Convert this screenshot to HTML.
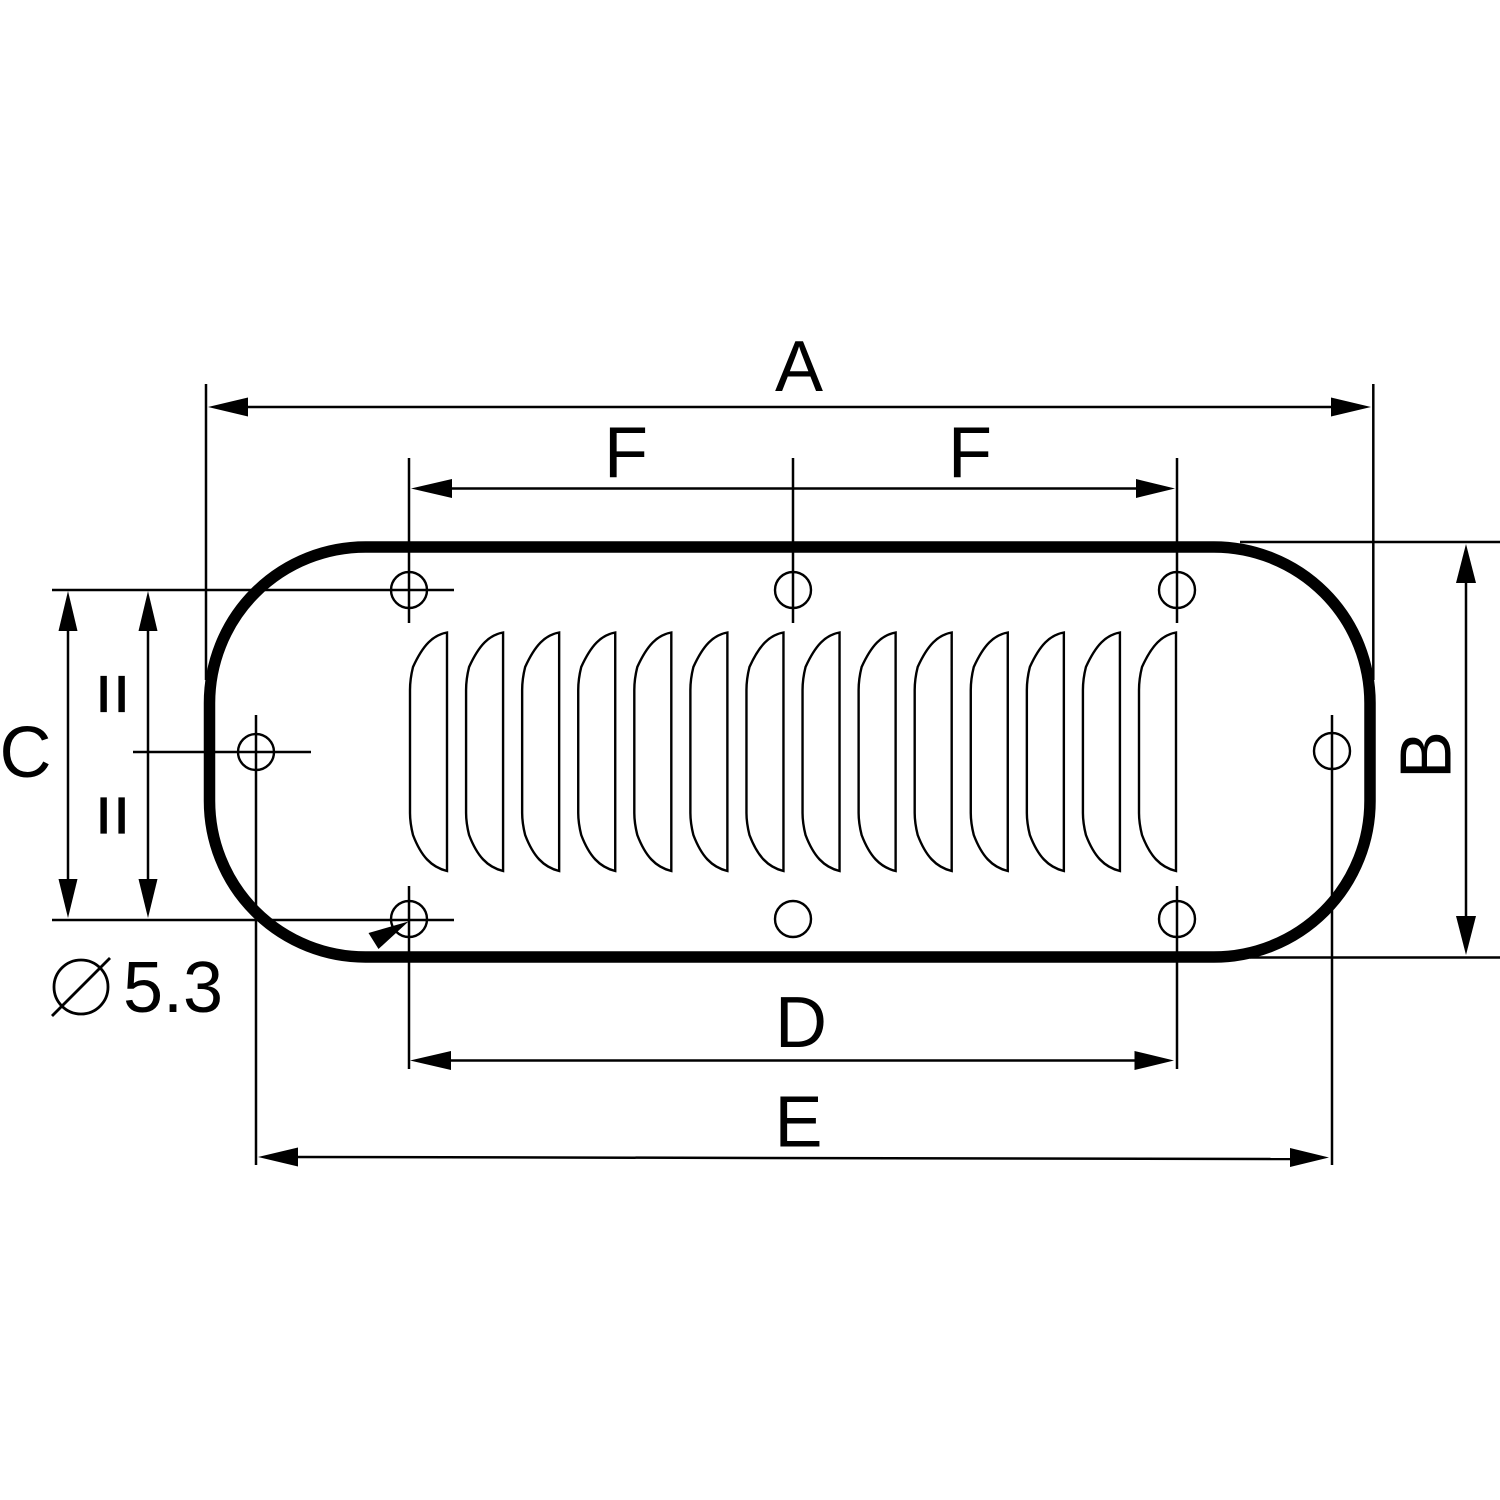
<!DOCTYPE html>
<html>
<head>
<meta charset="utf-8">
<style>
html,body{margin:0;padding:0;background:#fff}
svg{display:block}
text{font-family:"Liberation Sans",Arial,sans-serif;font-size:72px;fill:#000}
</style>
</head>
<body>
<svg width="1500" height="1500" viewBox="0 0 1500 1500" xmlns="http://www.w3.org/2000/svg">
<defs>
<path id="l" d="M447 632.500 C433 635 423 645 413 667 C411 675 410 682 410 690 L410 813 C410 820 411 827 413 835 C421 856 431 867 447 871 Z" fill="none" stroke="#000" stroke-width="2.400"/>
</defs>
<rect width="1500" height="1500" fill="#fff"/>

<!-- extension lines -->
<g stroke="#000" stroke-width="2.500" fill="none">
<path d="M206 384V680M1373.300 384V680"/>
<path d="M1240 542H1500M1250 957.500H1500"/>
<path d="M52 590H454M52 920H454"/>
<path d="M133 752H311"/>
<path d="M409 458V623M793 458V623M1177 458V623"/>
<path d="M409 886V1069M1177 886V1069"/>
<path d="M256 715V1165M1332 715V1165"/>
</g>

<!-- outline -->
<rect x="209.500" y="547" width="1160.500" height="410" rx="156" ry="156" fill="none" stroke="#000" stroke-width="11.500"/>

<!-- holes -->
<g fill="none" stroke="#000" stroke-width="2.400">
<circle cx="409" cy="590" r="18"/>
<circle cx="793" cy="590" r="18"/>
<circle cx="1177" cy="590" r="18"/>
<circle cx="256" cy="752" r="18"/>
<circle cx="1332" cy="751" r="18"/>
<circle cx="409" cy="919" r="18"/>
<circle cx="793" cy="919" r="18"/>
<circle cx="1177" cy="919" r="18"/>
</g>

<!-- louvers -->
<use href="#l"/>
<use href="#l" x="56.080"/>
<use href="#l" x="112.150"/>
<use href="#l" x="168.230"/>
<use href="#l" x="224.310"/>
<use href="#l" x="280.380"/>
<use href="#l" x="336.460"/>
<use href="#l" x="392.540"/>
<use href="#l" x="448.620"/>
<use href="#l" x="504.690"/>
<use href="#l" x="560.770"/>
<use href="#l" x="616.850"/>
<use href="#l" x="672.920"/>
<use href="#l" x="729"/>

<!-- dimension lines -->
<g stroke="#000" stroke-width="2.500" fill="none">
<path d="M240 407H1340"/>
<path d="M440 488.500H1145"/>
<path d="M440 1060.500H1145"/>
<path d="M290 1157L1295 1159"/>
<path d="M68 625V885"/>
<path d="M148 625V885"/>
<path d="M1466 575V925"/>
</g>

<!-- arrowheads -->
<g fill="#000" stroke="none">
<path d="M208 407L248 397.500V416.500Z"/>
<path d="M1371 407L1331 397.500V416.500Z"/>
<path d="M411 488.500L452 479V498Z"/>
<path d="M1175 488.500L1136 479V498Z"/>
<path d="M410 1060.500L451 1051V1070Z"/>
<path d="M1174 1060.500L1134.500 1051V1070Z"/>
<path d="M258 1157L298 1147.500V1166.500Z"/>
<path d="M1329 1157.500L1290 1148V1167Z"/>
<path d="M68 591L58.500 631H77.500Z"/>
<path d="M68 918L58.500 879H77.500Z"/>
<path d="M148 591L138.500 631H157.500Z"/>
<path d="M148 918L138.500 879H157.500Z"/>
<path d="M1466 544L1456 583H1476Z"/>
<path d="M1466 955L1456 916H1476Z"/>
<path d="M408.500 921.500L368.500 933L378.500 949Z"/>
</g>

<!-- diameter symbol -->
<g fill="none" stroke="#000" stroke-width="2.800">
<circle cx="81" cy="987" r="27"/>
<path d="M52 1016L110 958"/>
</g>

<!-- labels -->
<text x="799" y="391" text-anchor="middle">A</text>
<text x="626" y="477" text-anchor="middle">F</text>
<text x="970" y="477" text-anchor="middle">F</text>
<text x="801" y="1047" text-anchor="middle">D</text>
<text x="798.500" y="1146.500" text-anchor="middle">E</text>
<text x="25.500" y="777" text-anchor="middle">C</text>
<text x="123" y="1012">5.3</text>
<text transform="translate(1450.500 755) rotate(-90)" text-anchor="middle">B</text>
<text transform="translate(89 694) rotate(90)" text-anchor="middle" stroke="#000" stroke-width="1.200">=</text>
<text transform="translate(89 815.500) rotate(90)" text-anchor="middle" stroke="#000" stroke-width="1.200">=</text>
</svg>
</body>
</html>
